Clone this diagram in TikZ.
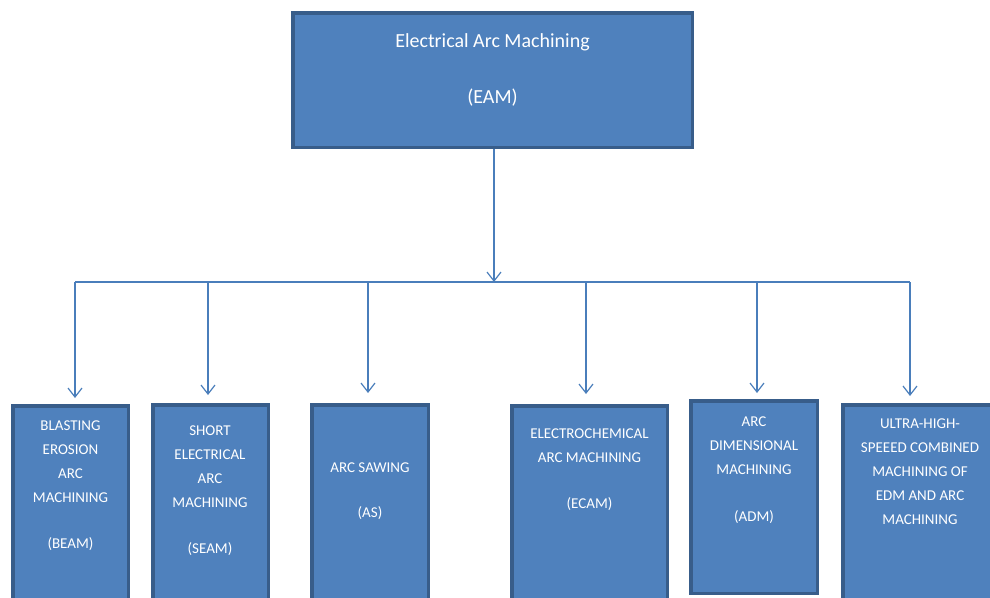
\documentclass[tikz,border=0pt]{standalone}
\usepackage{fontspec}
\setmainfont{Carlito}
\usetikzlibrary{arrows.meta}
\definecolor{wblue}{HTML}{4F81BD}
\definecolor{wedge}{HTML}{385D8A}
\definecolor{wline}{HTML}{4A7EBB}
\tikzstyle{cbox}=[rectangle, draw=wedge, line width=3.5pt, fill=wblue, inner sep=0pt, anchor=north west]
\tikzstyle{ctop}=[text=white, inner sep=0pt, anchor=north, align=center, font=\fontsize{20}{56}\selectfont]
\tikzstyle{cleaf}=[text=white, inner sep=0pt, anchor=north, align=center, font=\fontsize{15}{24}\selectfont]
\tikzstyle{clink}=[draw=wline, line width=1.2pt]
\tikzstyle{carrow}=[clink, -{Straight Barb[length=9pt,width=14pt]}]

\begin{document}
\begin{tikzpicture}[x=1pt, y=-1pt]
\useasboundingbox (0,0) rectangle (990,597);

\node[cbox, minimum width=399.5, minimum height=134.5] (b0) at (291,11) {};
\node[ctop] (t0) at (492.5,33.3) {Electrical Arc Machining\\(EAM)};

\node[cbox, minimum width=115.5, minimum height=210] (b1) at (11,404) {};
\node[cbox, minimum width=115.5, minimum height=210] (b2) at (151,403) {};
\node[cbox, minimum width=116.5, minimum height=210] (b3) at (310,403) {};
\node[cbox, minimum width=155.5, minimum height=210] (b4) at (510,404) {};
\node[cbox, minimum width=126.5, minimum height=192.5] (b5) at (689,399) {};
\node[cbox, minimum width=160, minimum height=210] (b6) at (841,403) {};

\node[cleaf] (t1) at (70.5,420.2) {BLASTING\\EROSION\\ARC\\MACHINING\\[22pt](BEAM)};
\node[cleaf] (t2) at (210,425.2) {SHORT\\ELECTRICAL\\ARC\\MACHINING\\[22pt](SEAM)};
\node[cleaf] (t3) at (370,462.2) {ARC SAWING\\[21pt](AS)};
\node[cleaf] (t4) at (589.5,428.2) {ELECTROCHEMICAL\\ARC MACHINING\\[22pt](ECAM)};
\node[cleaf] (t5) at (754,416.2) {ARC\\DIMENSIONAL\\MACHINING\\[23pt](ADM)};
\node[cleaf] (t6) at (920,418.2) {ULTRA-HIGH-\\SPEEED COMBINED\\MACHINING OF\\EDM AND ARC\\MACHINING};

% bus
\coordinate (c0) at (494,282);
\coordinate (p1) at (75,282);
\coordinate (p2) at (208,282);
\coordinate (p3) at (368,282);
\coordinate (p4) at (586,282);
\coordinate (p5) at (757,282);
\coordinate (p6) at (910,282);

\coordinate (a1) at (75,398);
\coordinate (a2) at (208,395);
\coordinate (a3) at (368,393);
\coordinate (a4) at (586,394);
\coordinate (a5) at (757,393);
\coordinate (a6) at (910,396);

\draw[carrow] (b0.south -| c0) -- (c0);
\draw[clink] (p1) -- (p6);
\draw[carrow] (p1) -- (a1);
\draw[carrow] (p2) -- (a2);
\draw[carrow] (p3) -- (a3);
\draw[carrow] (p4) -- (a4);
\draw[carrow] (p5) -- (a5);
\draw[carrow] (p6) -- (a6);

\end{tikzpicture}
\end{document}
